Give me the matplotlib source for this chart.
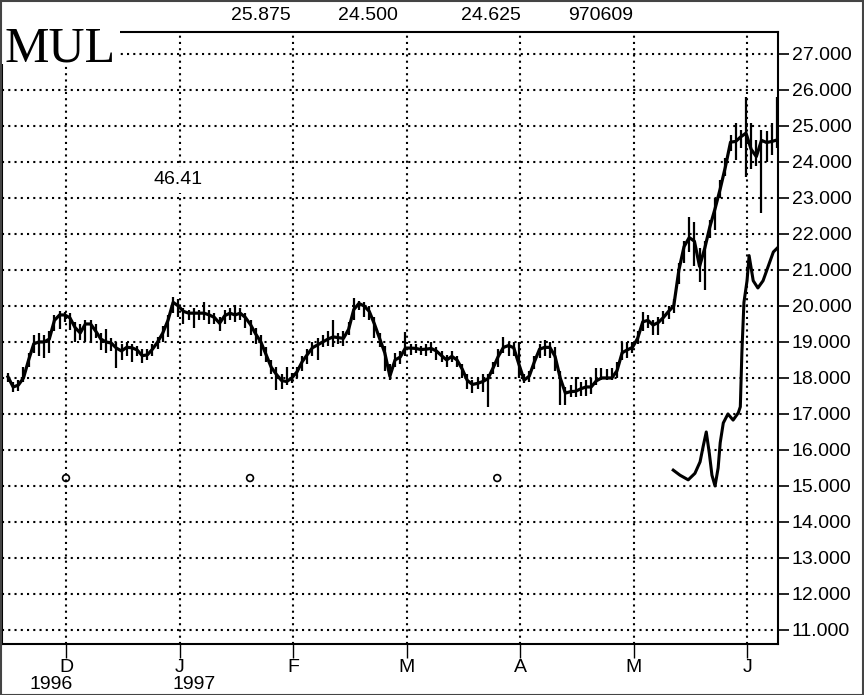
import matplotlib
matplotlib.use("Agg")
import matplotlib.pyplot as plt
from matplotlib.patches import Rectangle

# ---------------- data ----------------
close = [18.03, 17.75, 17.8, 18.0, 18.5, 18.95, 19.0, 19.0, 19.08, 19.6,
         19.75, 19.75, 19.67, 19.4, 19.25, 19.5, 19.5, 19.3, 19.08, 19.0,
         18.97, 18.83, 18.75, 18.85, 18.84, 18.78, 18.62, 18.64, 18.8, 19.0,
         19.25, 19.6, 20.1, 20.0, 19.85, 19.8, 19.8, 19.8, 19.8, 19.75,
         19.68, 19.52, 19.73, 19.8, 19.75, 19.8, 19.68, 19.48, 19.22, 19.0,
         18.65, 18.3, 18.1, 17.93, 17.9, 18.0, 18.17, 18.45, 18.65, 18.84,
         18.92, 19.0, 19.08, 19.14, 19.12, 19.1, 19.35, 19.9, 20.07, 20.0,
         19.85, 19.5, 19.1, 18.7, 18.05, 18.5, 18.58, 18.83, 18.83, 18.82,
         18.79, 18.8, 18.82, 18.75, 18.62, 18.5, 18.6, 18.5, 18.25, 17.93,
         17.82, 17.85, 17.9, 17.98, 18.28, 18.6, 18.85, 18.9, 18.84, 18.38,
         17.94, 18.05, 18.45, 18.8, 18.85, 18.85, 18.6, 18.0, 17.58, 17.62,
         17.63, 17.7, 17.75, 17.75, 17.92, 18.0, 18.0, 18.0, 18.2, 18.7,
         18.78, 18.85, 19.1, 19.56, 19.6, 19.47, 19.54, 19.68, 19.85, 20.0,
         21.0, 21.65, 21.9, 21.8, 21.1, 21.6, 22.2, 22.7, 23.25, 23.86,
         24.55, 24.57, 24.7, 24.8, 24.35, 24.15, 24.6, 24.54, 24.57, 24.61]

high = [18.15, 17.9, 17.95, 18.3, 18.7, 19.2, 19.25, 19.2, 19.3, 19.75,
        19.85, 19.83, 19.8, 19.56, 19.5, 19.6, 19.62, 19.5, 19.25, 19.35,
        19.1, 19.0, 18.95, 19.0, 18.95, 18.9, 18.8, 18.8, 18.95, 19.15,
        19.45, 19.75, 20.25, 20.2, 19.95, 19.9, 19.95, 19.9, 20.1, 19.9,
        19.8, 19.7, 19.9, 19.95, 20.03, 19.95, 19.8, 19.6, 19.4, 19.2,
        18.85, 18.5, 18.3, 18.1, 18.3, 18.15, 18.3, 18.6, 18.8, 19.0,
        19.1, 19.2, 19.3, 19.6, 19.25, 19.3, 19.55, 20.22, 20.15, 20.1,
        20.0, 19.7, 19.25, 18.9, 18.4, 18.7, 18.75, 19.28, 18.95, 18.95,
        18.9, 18.95, 19.0, 18.85, 18.75, 18.65, 18.75, 18.6, 18.4, 18.1,
        17.95, 18.0, 18.1, 18.1, 18.45, 18.8, 19.14, 19.0, 19.0, 19.0,
        18.1, 18.2, 18.6, 18.95, 19.06, 19.0, 18.85, 18.2, 17.75, 17.8,
        18.03, 17.9, 17.95, 18.0, 18.28, 18.28, 18.25, 18.28, 18.45, 19.0,
        19.0, 19.0, 19.3, 19.83, 19.75, 19.6, 19.7, 19.85, 20.0, 20.2,
        21.2, 21.8, 22.47, 22.33, 21.6, 21.8, 22.4, 23.0, 23.5, 24.1,
        24.75, 25.08, 24.9, 25.8, 25.08, 24.6, 24.9, 24.85, 25.08, 25.8]

low = [17.9, 17.6, 17.65, 17.9, 18.3, 18.7, 18.6, 18.55, 18.7, 19.3,
       19.35, 19.55, 19.33, 19.0, 19.05, 19.0, 18.97, 19.1, 18.78, 18.7,
       18.75, 18.28, 18.5, 18.6, 18.45, 18.6, 18.42, 18.5, 18.6, 18.8,
       19.0, 19.14, 19.8, 19.7, 19.5, 19.6, 19.4, 19.6, 19.6, 19.5,
       19.5, 19.3, 19.5, 19.6, 19.55, 19.6, 19.4, 19.2, 18.95, 18.6,
       18.45, 18.1, 17.67, 17.7, 17.8, 17.85, 18.0, 18.2, 18.4, 18.6,
       18.5, 18.85, 18.9, 18.86, 18.95, 18.9, 19.2, 19.6, 19.9, 19.7,
       19.6, 19.1, 18.86, 18.2, 17.94, 18.3, 18.4, 18.6, 18.65, 18.7,
       18.65, 18.6, 18.7, 18.5, 18.45, 18.3, 18.45, 18.3, 18.0, 17.7,
       17.58, 17.7, 17.6, 17.2, 18.1, 18.3, 18.7, 18.6, 18.6, 18.0,
       17.85, 17.9, 18.25, 18.55, 18.6, 18.55, 18.2, 17.25, 17.25, 17.47,
       17.47, 17.5, 17.5, 17.55, 17.8, 17.94, 17.94, 17.94, 18.0, 18.5,
       18.55, 18.7, 18.95, 19.3, 19.4, 19.2, 19.2, 19.5, 19.65, 19.8,
       20.6, 21.2, 21.5, 21.1, 20.67, 20.44, 21.9, 22.1, 23.0, 23.6,
       24.3, 24.06, 24.4, 23.58, 23.8, 23.9, 22.58, 24.0, 24.2, 24.4]

# secondary smooth line (position in trading-day index, value)
line2_x = [128.9, 130.2, 131.8, 133.1, 134.1, 134.7, 135.3, 135.9, 136.4, 137.0,
           137.6, 138.0, 138.6, 139.5, 140.5, 141.5, 141.9, 142.2, 142.6, 143.2,
           143.6, 144.4, 145.3, 146.3, 147.3, 148.3, 149.0]
line2_y = [15.44, 15.3, 15.17, 15.35, 15.67, 16.1, 16.5, 15.9, 15.3, 15.0,
           15.5, 16.2, 16.75, 17.0, 16.83, 17.03, 17.2, 18.7, 20.1, 20.7,
           21.4, 20.7, 20.5, 20.7, 21.1, 21.5, 21.6]

marker_x = [11.24, 46.9, 94.8]
marker_y = [15.22, 15.22, 15.22]

month_pos = [11.24, 33.24, 55.24, 77.24, 99.24, 121.24, 143.24]
month_labels = ["D", "J", "F", "M", "A", "M", "J"]
year_pos = [8.3, 36.0]
year_labels = ["1996", "1997"]

yticks = list(range(11, 28))
header = ["25.875", "24.500", "24.625", "970609"]
header_px = [261, 368, 491, 601]

# ---------------- figure ----------------
W, H = 864, 695
fig = plt.figure(figsize=(W / 100, H / 100), dpi=100)
fig.patch.set_facecolor("white")
ax = fig.add_axes([2 / W, 1 - 644 / H, (778 - 2) / W, (644 - 32) / H])

font = "Liberation Sans"
fs = 14

xs = list(range(len(close)))
ax.vlines(xs, low, high, color="black", lw=1.6, zorder=3)
ax.plot(xs, close, color="black", lw=2.3, zorder=4, solid_joinstyle="round")
ax.plot(line2_x, line2_y, color="black", lw=2.2, zorder=4, solid_joinstyle="round")
ax.scatter(marker_x, marker_y, s=24, facecolors="none", edgecolors="black", lw=1.2, zorder=4)

ax.set_xlim(-1.16, 149.2)
ax.set_ylim(10.61, 27.61)

ax.set_yticks(yticks)
ax.set_yticklabels([f"{v:.3f}" for v in yticks], fontsize=fs, family=font)
ax.yaxis.tick_right()
ax.tick_params(axis="y", direction="out", length=8, width=1.2, pad=2)

ax.set_xticks(month_pos)
ax.set_xticklabels(month_labels, fontsize=fs, family=font)
ax.tick_params(axis="x", direction="out", length=10, width=1.0, pad=1)
for xp, lab in zip(year_pos, year_labels):
    ax.text(xp, -0.053, lab, transform=ax.get_xaxis_transform(), ha="center", va="top",
            fontsize=fs, family=font, clip_on=False)

ax.grid(True, color="black", linestyle=(0, (1, 2)), lw=1.5)
ax.set_axisbelow(True)
for s in ax.spines.values():
    s.set_linewidth(1.5)

ax.text(32.9, 23.5, "46.41", ha="center", va="center", fontsize=fs, family=font, zorder=5,
        bbox=dict(facecolor="white", edgecolor="none", boxstyle="square,pad=0.25"))

# header values
for lab, xp in zip(header, header_px):
    fig.text(xp / W, 1 - 15 / H, lab, ha="center", va="center", fontsize=fs, family=font)

# title box covering corner of the plot frame
fig.patches.append(Rectangle((2 / W, 1 - 64 / H), 118 / W, 62 / H, transform=fig.transFigure,
                             facecolor="white", edgecolor="none", zorder=9))
fig.text(5 / W, 1 - 62 / H, "MUL", ha="left", va="baseline", fontsize=36,
         family="Liberation Serif", zorder=10)

# outer frame
fig.patches.append(Rectangle((0.5 / W, 0.5 / H), (W - 1.5) / W, (H - 1.5) / H,
                             transform=fig.transFigure, fill=False, edgecolor="#444444", lw=1.5, zorder=20))

fig.savefig("out.png", dpi=100)
